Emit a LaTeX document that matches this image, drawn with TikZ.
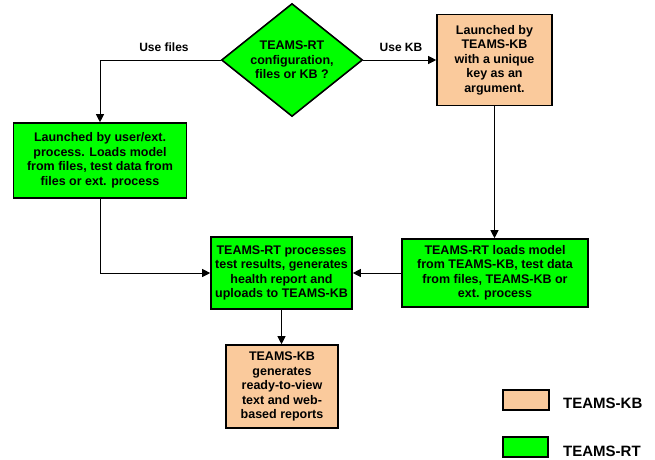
\documentclass[tikz,border=0pt]{standalone}
\usepackage{fontspec}
\setmainfont{Liberation Sans}
\usetikzlibrary{shapes.geometric,arrows.meta}
\definecolor{kbcol}{HTML}{FACA9C}
\definecolor{rtcol}{HTML}{00FF00}
\tikzset{
  box/.style={draw=black, line width=1.6pt, align=center, inner sep=0pt,
    font=\fontsize{12.5}{14.5}\selectfont\bfseries},
  kbbox/.style={box, fill=kbcol},
  rtbox/.style={box, fill=rtcol},
  conn/.style={draw=black, line width=0.8pt},
  arr/.style={conn, -{Triangle[length=8pt,width=8pt]}},
  lbl/.style={font=\fontsize{12}{14}\selectfont\bfseries, inner sep=0pt},
  legtxt/.style={font=\fontsize{15}{17}\selectfont\bfseries, inner sep=0pt, anchor=west}
}
\begin{document}
\begin{tikzpicture}[x=1pt,y=-1pt]
\useasboundingbox (0,0) rectangle (655,459);
\node[shape=diamond, draw=black, line width=1.6pt, fill=rtcol, aspect=1.237,
  minimum width=141pt, minimum height=113pt, inner sep=0pt, align=center,
  font=\fontsize{12.5}{14.5}\selectfont\bfseries] (dia) at (292,60)
  {TEAMS-RT\\configuration,\\files or KB ?};
\node[kbbox, minimum width=115pt, minimum height=91pt] (tbox) at (494.5,60)
  {Launched by\\TEAMS-KB\\with a unique\\key as an\\argument.};
\node[rtbox, minimum width=173pt, minimum height=75pt] (lbox) at (100,160.5)
  {Launched by user/ext.\\process. Loads model\\from files, test data from\\files or ext. process};
\node[rtbox, minimum width=141pt, minimum height=72pt] (mbox) at (281.5,273)
  {TEAMS-RT processes\\test results, generates\\health report and\\uploads to TEAMS-KB};
\node[rtbox, minimum width=186pt, minimum height=68pt] (rbox) at (495,273)
  {TEAMS-RT loads model\\from TEAMS-KB, test data\\from files, TEAMS-KB or\\ext. process};
\node[kbbox, minimum width=112pt, minimum height=83pt] (bbox) at (282,386.5)
  {TEAMS-KB\\generates\\ready-to-view\\text and web-\\based reports};
% connectors
\draw[arr] (dia.west) -| (lbox.north);
\draw[arr] (dia.east) -- (tbox.west);
\draw[arr] (tbox.south) -- (tbox.south |- rbox.north);
\draw[arr] (lbox.south) |- (mbox.west);
\draw[arr] (rbox.west) -- (mbox.east);
\draw[arr] (mbox.south) -- (mbox.south |- bbox.north);
% labels
\node[lbl] (ufiles) at (164,47) {Use files};
\node[lbl] (ukb) at (401,47) {Use KB};
% legend
\node[kbbox, minimum width=46pt, minimum height=20pt] (legkb) at (526,400) {};
\node[rtbox, minimum width=45pt, minimum height=20pt] (legrt) at (525.5,447) {};
\node[legtxt] (legkbt) at (563,403) {TEAMS-KB};
\node[legtxt] (legrtt) at (563,451) {TEAMS-RT};
\end{tikzpicture}
\end{document}
